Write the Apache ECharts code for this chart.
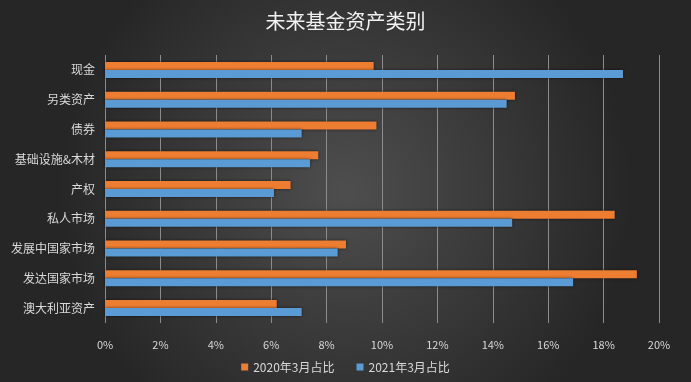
<!DOCTYPE html>
<html>
<head>
<meta charset="utf-8">
<script src="https://cdn.jsdelivr.net/npm/echarts@6/dist/echarts.min.js"></script>
<style>
  html, body { margin: 0; padding: 0; background: #333; }
  #main { width: 691px; height: 382px; }
</style>
</head>
<body>
<div id="main"></div>
<script>
var categories = ['现金', '另类资产', '债券', '基础设施&木材', '产权', '私人市场', '发展中国家市场', '发达国家市场', '澳大利亚资产'];
var share2020 = [9.7, 14.8, 9.8, 7.7, 6.7, 18.4, 8.7, 19.2, 6.2];
var share2021 = [18.7, 14.5, 7.1, 7.4, 6.1, 14.7, 8.4, 16.9, 7.1];
var seriesNames = ['2020年3月占比', '2021年3月占比'];

var chart = echarts.init(document.getElementById('main'));

var option = {
    backgroundColor: {
        type: 'radial', x: 0.5, y: 0.5, r: 0.75,
        colorStops: [
            { offset: 0, color: '#4e4e4e' },
            { offset: 1, color: '#262626' }
        ]
    },
    textStyle: { fontFamily: 'Noto Sans CJK SC' },
    title: {
        text: '未来基金资产类别',
        left: 'center',
        top: 6,
        textStyle: { color: '#f2f2f2', fontSize: 20, fontWeight: 'normal' }
    },
    legend: {
        data: seriesNames,
        bottom: 4,
        left: 'center',
        itemWidth: 7,
        itemHeight: 7,
        itemGap: 22,
        icon: 'rect',
        textStyle: { color: '#d9d9d9', fontSize: 12 }
    },
    grid: { left: 105, right: 32, top: 55, bottom: 59 },
    xAxis: {
        type: 'value',
        min: 0,
        max: 20,
        interval: 2,
        axisLine: { show: false },
        axisTick: { show: false },
        axisLabel: { color: '#d9d9d9', fontSize: 11, margin: 16, formatter: '{value}%' },
        splitLine: { lineStyle: { color: '#8c8c8c', width: 1 } }
    },
    yAxis: {
        type: 'category',
        data: categories,
        inverse: true,
        axisLine: { show: false },
        axisTick: { show: false },
        axisLabel: { color: '#d9d9d9', fontSize: 12, margin: 10 }
    },
    series: [
        {
            name: seriesNames[0],
            type: 'bar',
            data: share2020,
            barWidth: 8,
            barGap: '0%',
            itemStyle: { color: '#ed7d31', shadowBlur: 3, shadowColor: 'rgba(0,0,0,0.6)' }
        },
        {
            name: seriesNames[1],
            type: 'bar',
            data: share2021,
            barWidth: 8,
            barGap: '0%',
            itemStyle: { color: '#5b9bd5', shadowBlur: 3, shadowColor: 'rgba(0,0,0,0.6)' }
        }
    ]
};

chart.setOption(option);
</script>
</body>
</html>
